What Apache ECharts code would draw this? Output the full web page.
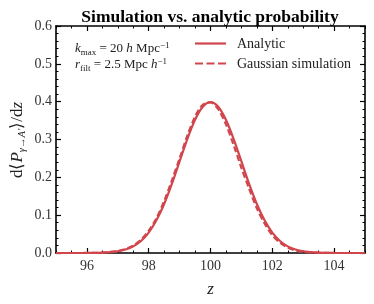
<!DOCTYPE html>
<html><head><meta charset="utf-8">
<script src="https://cdn.jsdelivr.net/npm/echarts@6/dist/echarts.min.js"></script>
<style>html,body{margin:0;padding:0;background:#fff}#c{width:374px;height:304px}</style>
</head><body><div id="c"></div>
<script>
var zValues = [95, 95.5, 96, 96.5, 97, 97.25, 97.5, 97.75, 98, 98.25, 98.5, 98.75, 99, 99.25, 99.5, 99.75, 100, 100.25, 100.5, 100.75, 101, 101.25, 101.5, 101.75, 102, 102.25, 102.5, 102.75, 103, 103.5, 104, 104.5, 105];
var analytic = [0.0000, 0.0000, 0.0001, 0.0009, 0.0044, 0.0091, 0.0175, 0.0317, 0.0540, 0.0863, 0.1295, 0.1826, 0.2420, 0.3011, 0.3521, 0.3867, 0.3989, 0.3867, 0.3521, 0.3011, 0.2420, 0.1826, 0.1295, 0.0863, 0.0540, 0.0317, 0.0175, 0.0091, 0.0044, 0.0009, 0.0001, 0.0000, 0.0000];
var simulation = [0.0000, 0.0000, 0.0002, 0.0012, 0.0052, 0.0105, 0.0200, 0.0350, 0.0590, 0.0920, 0.1370, 0.1920, 0.2500, 0.3100, 0.3600, 0.3920, 0.3980, 0.3800, 0.3400, 0.2850, 0.2250, 0.1700, 0.1180, 0.0780, 0.0470, 0.0270, 0.0140, 0.0070, 0.0030, 0.0008, 0.0001, 0.0000, 0.0000];
var xMajorTicks = [96, 98, 100, 102, 104];
var seriesNames = ['Analytic', 'Gaussian simulation'];

var red = '#d1464d';
var serif = 'Liberation Serif';
function pairs(ys){ return zValues.map(function(x,i){ return [x, ys[i]]; }); }

var chart = echarts.init(document.getElementById('c'), null, {renderer:'canvas'});
var axisLine = {show:true, lineStyle:{color:'#000', width:1.6}};
var rich = {i:{fontStyle:'italic', fontFamily:serif, fontSize:13},
            sub:{fontFamily:serif, fontSize:9, padding:[7,0,0,0]},
            sup:{fontFamily:serif, fontSize:9, padding:[0,0,7,0]}};
chart.setOption({
  animation:false,
  title:{text:'Simulation vs. analytic probability', left:205, textAlign:'center', top:3,
    textStyle:{fontFamily:serif, fontWeight:'bold', fontSize:17.5, color:'#000'}},
  grid:{left:56, right:9, top:26, bottom:51},
  xAxis:[
    {type:'value', position:'bottom', min:95, max:105, axisLine:axisLine, splitLine:{show:false},
     axisTick:{inside:true, length:5, customValues:xMajorTicks, lineStyle:{color:'#000', width:1.2}},
     axisLabel:{customValues:xMajorTicks, fontFamily:serif, fontSize:14, color:'#333', margin:6},
     name:'z', nameLocation:'middle', nameGap:28,
     nameTextStyle:{fontFamily:serif, fontStyle:'italic', fontSize:17, color:'#222'}},
    {type:'value', position:'bottom', min:95, max:105, interval:0.5, axisLine:{show:false}, splitLine:{show:false},
     axisTick:{inside:true, length:2.5, lineStyle:{color:'#000', width:1}}, axisLabel:{show:false}},
    {type:'value', position:'top', min:95, max:105, axisLine:axisLine, splitLine:{show:false},
     axisTick:{inside:true, length:5, customValues:xMajorTicks, lineStyle:{color:'#000', width:1.2}},
     axisLabel:{show:false}},
    {type:'value', position:'top', min:95, max:105, interval:0.5, axisLine:{show:false}, splitLine:{show:false},
     axisTick:{inside:true, length:2.5, lineStyle:{color:'#000', width:1}}, axisLabel:{show:false}}
  ],
  yAxis:[
    {type:'value', position:'left', min:0, max:0.6, interval:0.1, axisLine:axisLine, splitLine:{show:false},
     axisTick:{inside:true, length:5, lineStyle:{color:'#000', width:1.2}},
     minorTick:{show:true, splitNumber:5, length:2.5, lineStyle:{color:'#000', width:1}},
     axisLabel:{fontFamily:serif, fontSize:14, color:'#333', margin:4, formatter:function(v){return v.toFixed(1);}}},
    {type:'value', position:'right', min:0, max:0.6, interval:0.1, axisLine:axisLine, splitLine:{show:false},
     axisTick:{inside:true, length:5, lineStyle:{color:'#000', width:1.2}},
     minorTick:{show:true, splitNumber:5, length:2.5, lineStyle:{color:'#000', width:1}},
     axisLabel:{show:false}}
  ],
  graphic:[
    {type:'text', x:18, y:140, rotation:Math.PI/2, style:{
      text:'d⟨{p|P}{sub|γ→A′}⟩/d{p|z}', fill:'#222', font:'17px "Liberation Serif"', align:'center', verticalAlign:'middle',
      rich:{p:{fontStyle:'italic', fontFamily:serif, fontSize:17}, sub:{fontStyle:'italic', fontFamily:serif, fontSize:10.5, padding:[8,0,0,0]}}
    }},
    {type:'text', x:75, y:41, style:{text:'{i|k}{sub|max} = 20 {i|h} Mpc{sup|−1}', fill:'#222', font:'13px "Liberation Serif"', rich:rich}},
    {type:'text', x:75, y:57, style:{text:'{i|r}{sub|filt} = 2.5 Mpc {i|h}{sup|−1}', fill:'#222', font:'13px "Liberation Serif"', rich:rich}},
    {type:'line', shape:{x1:195, y1:43.5, x2:226, y2:43.5}, style:{stroke:red, lineWidth:2.2}},
    {type:'line', shape:{x1:195, y1:63.5, x2:226, y2:63.5}, style:{stroke:red, lineWidth:2.2, lineDash:[8,3.5]}},
    {type:'text', x:237, y:44, style:{text:seriesNames[0], fill:'#222', font:'14px "Liberation Serif"', verticalAlign:'middle'}},
    {type:'text', x:237, y:64, style:{text:seriesNames[1], fill:'#222', font:'14px "Liberation Serif"', verticalAlign:'middle'}}
  ],
  series:[
    {name:seriesNames[0], type:'line', xAxisIndex:0, yAxisIndex:0, data:pairs(analytic), smooth:0.3, showSymbol:false, symbol:'none',
     lineStyle:{color:red, width:2.2}, itemStyle:{color:red}},
    {name:seriesNames[1], type:'line', xAxisIndex:0, yAxisIndex:0, data:pairs(simulation), smooth:0.3, showSymbol:false, symbol:'none',
     lineStyle:{color:red, width:2.2, type:[6,3]}, itemStyle:{color:red}}
  ]
});
</script></body></html>
